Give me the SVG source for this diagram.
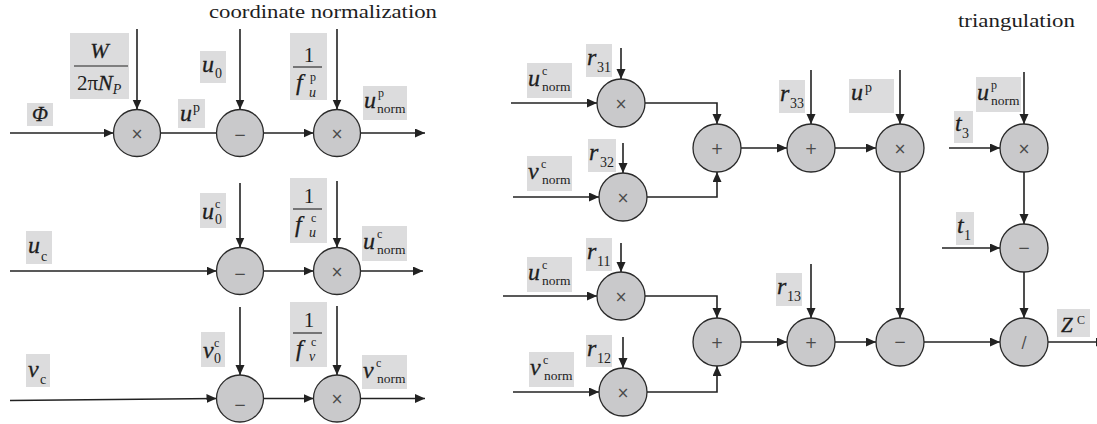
<svg xmlns="http://www.w3.org/2000/svg" width="1097" height="424" viewBox="0 0 1097 424">
  <style>
    .bg { fill: #ffffff; }
    .box { fill: #dcdcdd; }
    .node circle { fill: #c9c9cb; stroke: #2a2a2a; stroke-width: 1.3; }
    .op { font-family: "DejaVu Sans", sans-serif; font-size: 15px; fill: #4a4a4a; text-anchor: middle; }
    .wire { fill: none; stroke: #222; stroke-width: 1.6; }
    .arr { marker-end: url(#head); }
    .frac { stroke: #222; stroke-width: 1.1; }
    .v { font-family: "Liberation Serif", serif; font-style: italic; font-size: 24px; fill: #1e1e1e; stroke: #1e1e1e; stroke-width: 0.3; }
    .u { font-family: "Liberation Serif", serif; font-size: 21px; fill: #1e1e1e; }
    .s { font-family: "Liberation Serif", serif; font-size: 14px; fill: #1e1e1e; }
    .sp { font-family: "Liberation Serif", serif; font-size: 12px; fill: #1e1e1e; }
    .nm { font-family: "Liberation Serif", serif; font-size: 13.5px; fill: #1e1e1e; }
    .si { font-family: "Liberation Serif", serif; font-style: italic; font-size: 14px; fill: #1e1e1e; }
    .title { font-family: "Liberation Serif", serif; font-size: 19px; fill: #1e1e1e; }
  </style>
  <defs>
    <marker id="head" markerUnits="userSpaceOnUse" markerWidth="11" markerHeight="10" refX="10" refY="4.5" orient="auto">
      <path d="M0,0 L10,4.5 L0,9 z" fill="#222"/>
    </marker>
  </defs>

  <rect class="bg" x="0" y="0" width="1097" height="424"/>

  <!-- section headings -->
  <text class="title" x="209" y="18" textLength="228" lengthAdjust="spacingAndGlyphs">coordinate normalization</text>
  <text class="title" x="958" y="27" textLength="117" lengthAdjust="spacingAndGlyphs">triangulation</text>

  <!-- connectors -->
  <g id="connectors">
    <!-- normalization, row u^p -->
    <path class="wire arr" d="M10,133 H113.5"/>
    <path class="wire" d="M160.5,133 H216.5"/>
    <path class="wire arr" d="M263.5,133 H313.5"/>
    <path class="wire arr" d="M360.5,133 H425"/>
    <path class="wire arr" d="M137,29 V109.5"/>
    <path class="wire arr" d="M240,29 V109.5"/>
    <path class="wire arr" d="M337,29 V109.5"/>
    <!-- normalization, row u^c -->
    <path class="wire arr" d="M10,271 H216.5"/>
    <path class="wire arr" d="M263.5,271 H313.5"/>
    <path class="wire arr" d="M360.5,271 H423"/>
    <path class="wire arr" d="M240,183 V247.5"/>
    <path class="wire arr" d="M337,181 V247.5"/>
    <!-- normalization, row v^c -->
    <path class="wire arr" d="M10,400.5 L216.5,398.5"/>
    <path class="wire arr" d="M263.5,398.5 H313.5"/>
    <path class="wire arr" d="M360.5,398.5 H425"/>
    <path class="wire arr" d="M240,307 V375"/>
    <path class="wire arr" d="M337,306 V375"/>

    <!-- triangulation, numerator branch -->
    <path class="wire arr" d="M511,103 H597"/>
    <path class="wire arr" d="M621,48 V79"/>
    <path class="wire arr" d="M645,103 H717 V124"/>
    <path class="wire arr" d="M513,197 H599"/>
    <path class="wire arr" d="M623,143 V173"/>
    <path class="wire arr" d="M647,197 H717 V172"/>
    <path class="wire arr" d="M741,148 H787"/>
    <path class="wire arr" d="M811,70 V124"/>
    <path class="wire arr" d="M835,148 H876"/>
    <path class="wire arr" d="M900,70 V124"/>
    <path class="wire arr" d="M900,172 V318"/>
    <path class="wire arr" d="M1024,72 V124"/>
    <path class="wire arr" d="M949,148 H1000"/>
    <path class="wire arr" d="M1024,172 V224"/>
    <path class="wire arr" d="M942,248 H1000"/>
    <path class="wire arr" d="M1024,272 V318"/>
    <!-- triangulation, denominator branch -->
    <path class="wire arr" d="M503,296 H597"/>
    <path class="wire arr" d="M621,243 V272"/>
    <path class="wire arr" d="M645,296 H717 V318"/>
    <path class="wire arr" d="M513,392 H599"/>
    <path class="wire arr" d="M623,337 V368"/>
    <path class="wire arr" d="M647,392 H717 V366"/>
    <path class="wire arr" d="M741,342 H787"/>
    <path class="wire arr" d="M811,264 V318"/>
    <path class="wire arr" d="M835,342 H876"/>
    <path class="wire arr" d="M924,342 H1000"/>
    <path class="wire arr" d="M1048,342 H1106"/>
  </g>

  <!-- operator nodes: normalization -->
  <g id="n-mul-scale" class="node"><circle cx="137" cy="133" r="23.5"/><text class="op" x="137" y="139">×</text></g>
  <g id="n-sub-u0" class="node"><circle cx="240" cy="133" r="23.5"/><text class="op" x="240" y="140">−</text></g>
  <g id="n-mul-fup" class="node"><circle cx="337" cy="133" r="23.5"/><text class="op" x="337" y="139">×</text></g>
  <g id="n-sub-u0c" class="node"><circle cx="240" cy="271" r="23.5"/><text class="op" x="240" y="279">−</text></g>
  <g id="n-mul-fuc" class="node"><circle cx="337" cy="271" r="23.5"/><text class="op" x="337" y="277">×</text></g>
  <g id="n-sub-v0c" class="node"><circle cx="240" cy="398.5" r="23.5"/><text class="op" x="240" y="410">−</text></g>
  <g id="n-mul-fvc" class="node"><circle cx="337" cy="398.5" r="23.5"/><text class="op" x="337" y="404">×</text></g>

  <!-- operator nodes: triangulation -->
  <g id="n-mul-r31" class="node"><circle cx="621" cy="103" r="24"/><text class="op" x="621" y="109">×</text></g>
  <g id="n-mul-r32" class="node"><circle cx="623" cy="197" r="24"/><text class="op" x="623" y="203">×</text></g>
  <g id="n-add-3" class="node"><circle cx="717" cy="148" r="24"/><text class="op" x="717" y="154">+</text></g>
  <g id="n-add-r33" class="node"><circle cx="811" cy="148" r="24"/><text class="op" x="811" y="154">+</text></g>
  <g id="n-mul-up" class="node"><circle cx="900" cy="148" r="24"/><text class="op" x="900" y="154">×</text></g>
  <g id="n-mul-upn" class="node"><circle cx="1024" cy="148" r="24"/><text class="op" x="1024" y="154">×</text></g>
  <g id="n-sub-t1" class="node"><circle cx="1024" cy="248" r="24"/><text class="op" x="1024" y="253">−</text></g>
  <g id="n-mul-r11" class="node"><circle cx="621" cy="296" r="24"/><text class="op" x="621" y="302">×</text></g>
  <g id="n-mul-r12" class="node"><circle cx="623" cy="392" r="24"/><text class="op" x="623" y="398">×</text></g>
  <g id="n-add-1" class="node"><circle cx="717" cy="342" r="24"/><text class="op" x="717" y="348">+</text></g>
  <g id="n-add-r13" class="node"><circle cx="811" cy="342" r="24"/><text class="op" x="811" y="348">+</text></g>
  <g id="n-sub-den" class="node"><circle cx="900" cy="342" r="24"/><text class="op" x="900" y="347">−</text></g>
  <g id="n-div" class="node"><circle cx="1024" cy="342" r="24"/><text class="op" x="1024" y="348">/</text></g>

  <!-- labels: normalization -->
  <g id="l-scale">
    <rect class="box" x="70" y="33" width="59" height="66"/>
    <text class="v" x="99.5" y="58" text-anchor="middle" style="font-size:22px">W</text>
    <line class="frac" x1="74" y1="66" x2="128" y2="66"/>
    <text class="u" x="77" y="90">2π<tspan class="v" style="font-size:22px">N</tspan><tspan class="si" dy="4">P</tspan></text>
  </g>
  <g id="l-phi"><rect class="box" x="27" y="103" width="26" height="23"/><text class="v" x="40" y="121" text-anchor="middle" style="font-size:21px">Φ</text></g>
  <g id="l-up"><rect class="box" x="178" y="99" width="27" height="29"/><text class="v" x="180" y="121">u</text><text class="s" x="193" y="112">p</text></g>
  <g id="l-u0"><rect class="box" x="200" y="51" width="26" height="32"/><text class="v" x="202" y="72">u</text><text class="s" x="215" y="78">0</text></g>
  <g id="l-fup">
    <rect class="box" x="290" y="33" width="37" height="67"/>
    <text class="u" x="309" y="62" text-anchor="middle">1</text>
    <line class="frac" x1="293" y1="67" x2="322" y2="67"/>
    <text class="v" x="296" y="90">f</text><text class="sp" x="310" y="81">p</text><text class="si" x="309" y="97">u</text>
  </g>
  <g id="l-upnorm"><rect class="box" x="363" y="86" width="44" height="34"/><text class="v" x="364" y="108">u</text><text class="sp" x="378" y="97">p</text><text class="nm" x="377" y="113">norm</text></g>

  <g id="l-uc"><rect class="box" x="26" y="231" width="26" height="33"/><text class="v" x="28" y="253">u</text><text class="s" x="41" y="261">c</text></g>
  <g id="l-u0c"><rect class="box" x="200" y="193" width="26" height="35"/><text class="v" x="202" y="219">u</text><text class="sp" x="215" y="208">c</text><text class="s" x="215" y="224">0</text></g>
  <g id="l-fuc">
    <rect class="box" x="290" y="178" width="37" height="65"/>
    <text class="u" x="309" y="203" text-anchor="middle">1</text>
    <line class="frac" x1="293" y1="209" x2="322" y2="209"/>
    <text class="v" x="295" y="232">f</text><text class="sp" x="311" y="222">c</text><text class="si" x="309" y="237">u</text>
  </g>
  <g id="l-ucnorm"><rect class="box" x="362" y="226" width="45" height="35"/><text class="v" x="363" y="249">u</text><text class="sp" x="377" y="238">c</text><text class="nm" x="377" y="254">norm</text></g>

  <g id="l-vc"><rect class="box" x="26" y="354" width="24" height="33"/><text class="v" x="28" y="377">v</text><text class="s" x="40" y="384">c</text></g>
  <g id="l-v0c"><rect class="box" x="201" y="332" width="24" height="35"/><text class="v" x="203" y="358">v</text><text class="sp" x="214" y="347">c</text><text class="s" x="214" y="363">0</text></g>
  <g id="l-fvc">
    <rect class="box" x="290" y="302" width="37" height="65"/>
    <text class="u" x="309" y="327" text-anchor="middle">1</text>
    <line class="frac" x1="293" y1="333" x2="322" y2="333"/>
    <text class="v" x="296" y="356">f</text><text class="sp" x="311" y="346">c</text><text class="si" x="309" y="361">v</text>
  </g>
  <g id="l-vcnorm"><rect class="box" x="362" y="355" width="45" height="34"/><text class="v" x="363" y="378">v</text><text class="sp" x="376" y="367">c</text><text class="nm" x="377" y="383">norm</text></g>

  <!-- labels: triangulation -->
  <g id="l-ucnorm-a"><rect class="box" x="527" y="63" width="45" height="35"/><text class="v" x="528" y="86">u</text><text class="sp" x="542" y="75">c</text><text class="nm" x="542" y="91">norm</text></g>
  <g id="l-r31"><rect class="box" x="586" y="44" width="26" height="33"/><text class="v" x="587" y="65">r</text><text class="s" x="597" y="72">31</text></g>
  <g id="l-r32"><rect class="box" x="588" y="139" width="28" height="33"/><text class="v" x="589" y="160">r</text><text class="s" x="600" y="167">32</text></g>
  <g id="l-vcnorm-a"><rect class="box" x="527" y="156" width="45" height="35"/><text class="v" x="528" y="179">v</text><text class="sp" x="541" y="168">c</text><text class="nm" x="542" y="184">norm</text></g>
  <g id="l-r33"><rect class="box" x="779" y="80" width="26" height="33"/><text class="v" x="780" y="101">r</text><text class="s" x="790" y="108">33</text></g>
  <g id="l-up-t"><rect class="box" x="849" y="79" width="45" height="34"/><text class="v" x="851" y="100">u</text><text class="s" x="865" y="92">p</text></g>
  <g id="l-upnorm-t"><rect class="box" x="976" y="77" width="45" height="35"/><text class="v" x="977" y="100">u</text><text class="sp" x="991" y="89">p</text><text class="nm" x="991" y="105">norm</text></g>
  <g id="l-t3"><rect class="box" x="954" y="111" width="19" height="32"/><text class="v" x="955" y="131">t</text><text class="s" x="962" y="138">3</text></g>
  <g id="l-t1"><rect class="box" x="956" y="212" width="18" height="33"/><text class="v" x="957" y="233">t</text><text class="s" x="964" y="240">1</text></g>
  <g id="l-r11"><rect class="box" x="586" y="238" width="26" height="33"/><text class="v" x="587" y="259">r</text><text class="s" x="597" y="266">11</text></g>
  <g id="l-ucnorm-b"><rect class="box" x="527" y="257" width="45" height="35"/><text class="v" x="528" y="280">u</text><text class="sp" x="542" y="269">c</text><text class="nm" x="542" y="285">norm</text></g>
  <g id="l-r12"><rect class="box" x="586" y="335" width="26" height="32"/><text class="v" x="587" y="356">r</text><text class="s" x="597" y="363">12</text></g>
  <g id="l-vcnorm-b"><rect class="box" x="529" y="352" width="45" height="35"/><text class="v" x="530" y="375">v</text><text class="sp" x="543" y="364">c</text><text class="nm" x="544" y="380">norm</text></g>
  <g id="l-r13"><rect class="box" x="776" y="273" width="26" height="33"/><text class="v" x="777" y="294">r</text><text class="s" x="787" y="301">13</text></g>
  <g id="l-zc"><rect class="box" x="1057" y="309" width="33" height="28"/><text class="v" x="1061" y="332" style="font-size:21px">Z</text><text class="sp" x="1077" y="324">C</text></g>
</svg>
